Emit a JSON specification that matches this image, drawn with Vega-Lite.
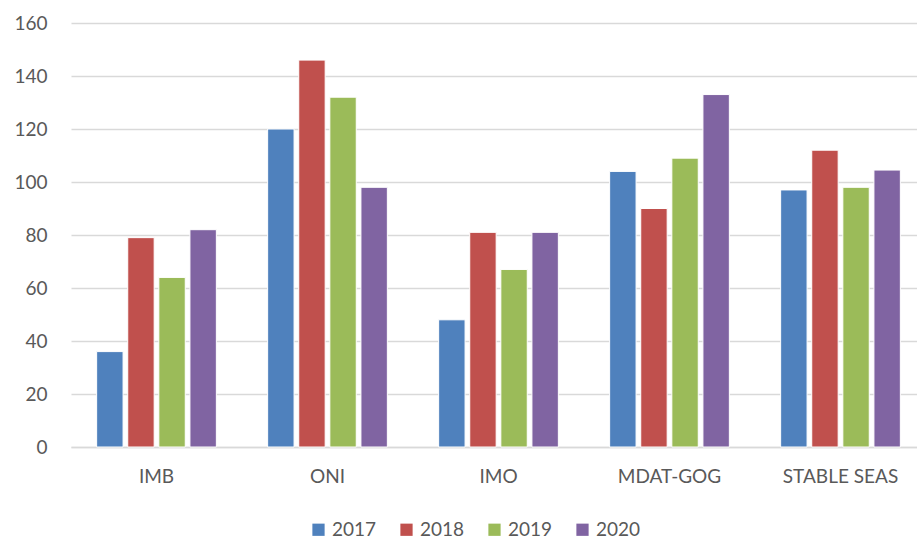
{
  "$schema": "https://vega.github.io/schema/vega-lite/v6.json",
  "width": 917,
  "height": 542,
  "autosize": {"type": "fit", "contains": "padding"},
  "padding": {"left": 13, "right": -9, "top": 14, "bottom": 56},
  "background": "white",
  "config": {
    "font": "Lato",
    "view": {"stroke": null},
    "axis": {"labelFont": "Lato", "labelFontSize": 19, "labelColor": "#595959"},
    "legend": {"labelFont": "Lato", "labelFontSize": 19, "labelColor": "#595959"}
  },
  "data": {
    "values": [
      {"org": "IMB", "year": "2017", "value": 36},
      {"org": "IMB", "year": "2018", "value": 79},
      {"org": "IMB", "year": "2019", "value": 64},
      {"org": "IMB", "year": "2020", "value": 82},
      {"org": "ONI", "year": "2017", "value": 120},
      {"org": "ONI", "year": "2018", "value": 146},
      {"org": "ONI", "year": "2019", "value": 132},
      {"org": "ONI", "year": "2020", "value": 98},
      {"org": "IMO", "year": "2017", "value": 48},
      {"org": "IMO", "year": "2018", "value": 81},
      {"org": "IMO", "year": "2019", "value": 67},
      {"org": "IMO", "year": "2020", "value": 81},
      {"org": "MDAT-GOG", "year": "2017", "value": 104},
      {"org": "MDAT-GOG", "year": "2018", "value": 90},
      {"org": "MDAT-GOG", "year": "2019", "value": 109},
      {"org": "MDAT-GOG", "year": "2020", "value": 133},
      {"org": "STABLE SEAS", "year": "2017", "value": 97},
      {"org": "STABLE SEAS", "year": "2018", "value": 112},
      {"org": "STABLE SEAS", "year": "2019", "value": 98},
      {"org": "STABLE SEAS", "year": "2020", "value": 104.5}
    ]
  },
  "mark": {"type": "bar", "stroke": "white", "strokeWidth": 1},
  "encoding": {
    "x": {
      "field": "org", "type": "nominal", "sort": null, "title": null,
      "scale": {"paddingInner": 0.3, "paddingOuter": 0.15},
      "axis": {"labelAngle": 0, "ticks": false, "domain": true, "domainColor": "#d9d9d9", "domainWidth": 1.5, "labelPadding": 20, "grid": false}
    },
    "xOffset": {"field": "year", "type": "nominal", "scale": {"paddingInner": 0.15}},
    "y": {
      "field": "value", "type": "quantitative", "title": null,
      "scale": {"domain": [0, 160]},
      "axis": {"values": [0, 20, 40, 60, 80, 100, 120, 140, 160], "labelOverlap": false, "ticks": false, "domain": false, "gridColor": "#d9d9d9", "gridWidth": 1.5, "labelPadding": 24}
    },
    "color": {
      "field": "year", "type": "nominal", "title": null,
      "scale": {"domain": ["2017", "2018", "2019", "2020"], "range": ["#4F81BD", "#C0504D", "#9BBB59", "#8064A2"]},
      "legend": {"orient": "none", "legendX": 238, "legendY": 497, "direction": "horizontal", "symbolType": "square", "symbolSize": 150, "symbolStrokeWidth": 0, "columnPadding": 20}
    }
  }
}
